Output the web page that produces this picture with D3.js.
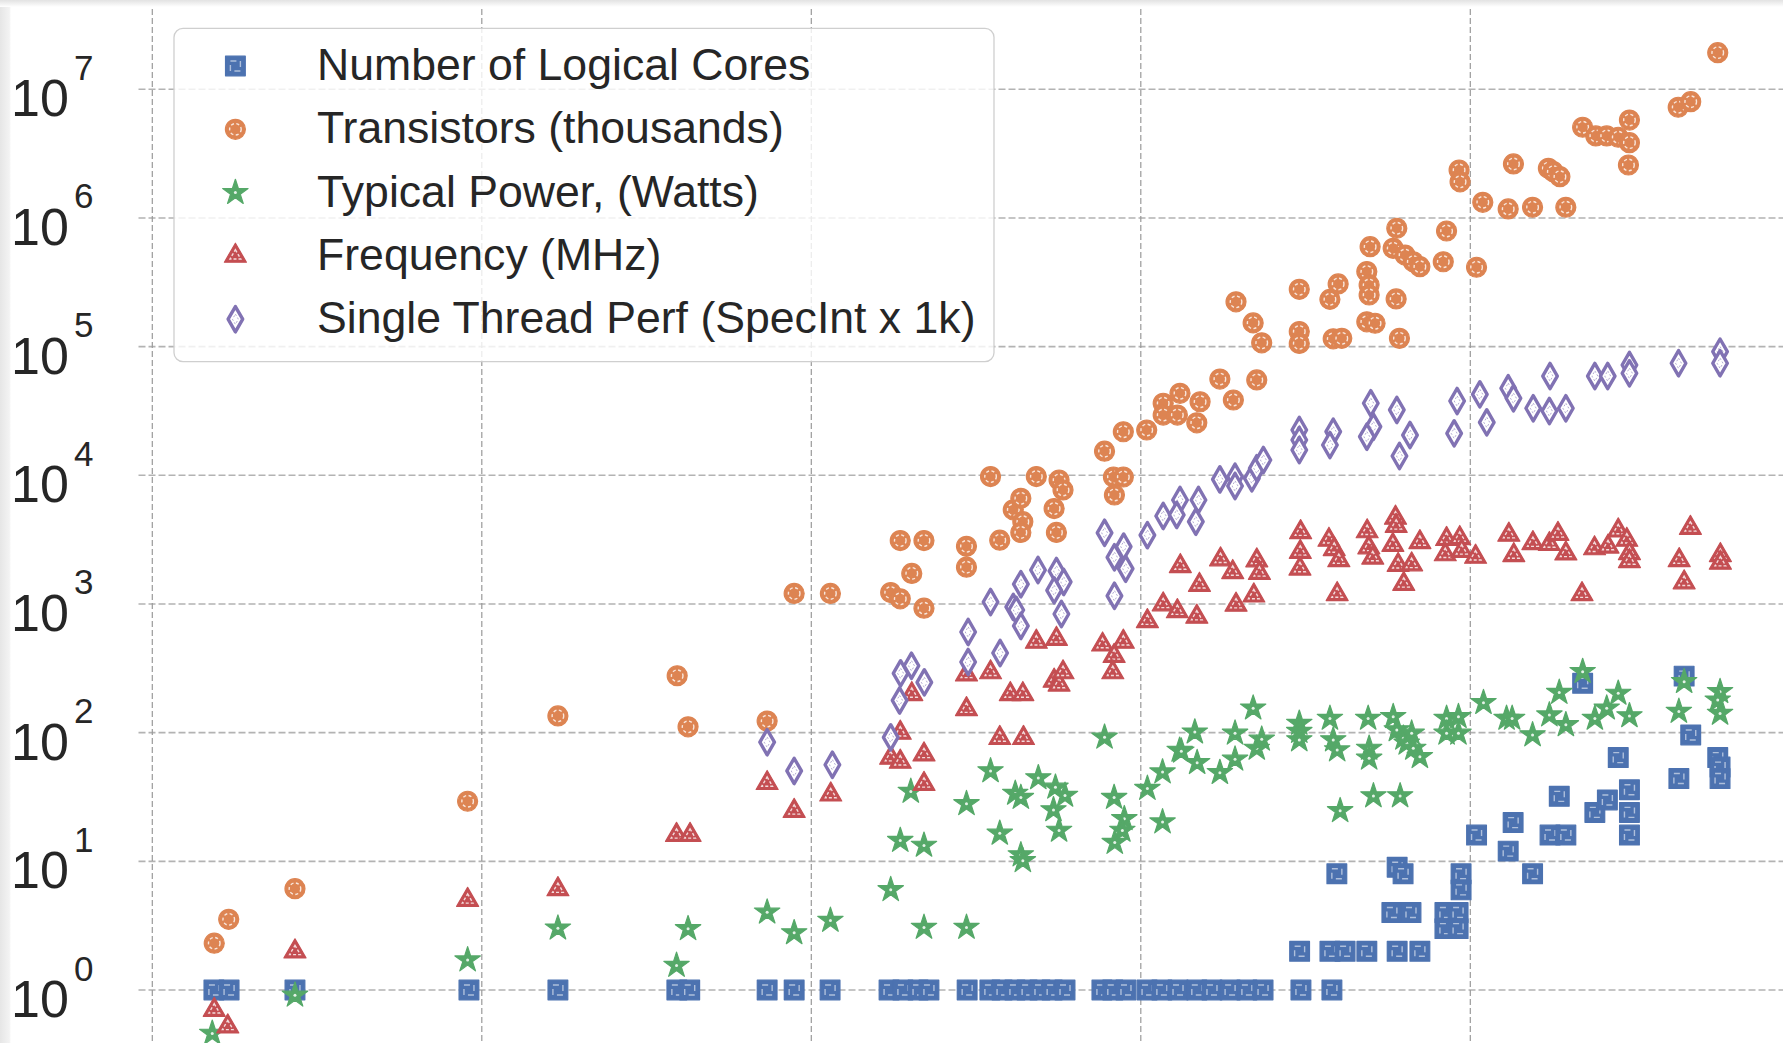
<!DOCTYPE html>
<html><head><meta charset="utf-8">
<script src="https://cdn.jsdelivr.net/npm/d3@7"></script>
<style>html,body{margin:0;padding:0;background:#fff;overflow:hidden}</style>
</head><body><svg id="chart" width="1783" height="1043"></svg>
<script>
// ---------- DATA ----------
const seriesNames = ["Number of Logical Cores", "Transistors (thousands)", "Typical Power, (Watts)", "Frequency (MHz)", "Single Thread Perf (SpecInt x 1k)"];
const seriesColors = ["#4C72B0", "#DD8452", "#55A868", "#C44E52", "#8172B3"];
const xTickYears = [1970, 1980, 1990, 2000, 2010];
const yTickExponents = [0, 1, 2, 3, 4, 5, 6, 7];

const coresYears = [1971.87,1972.33,1974.33,1979.61,1982.31,1985.92,1986.31,1988.66,1989.48,1990.57,1992.36,1992.78,1993.24,1993.57,1994.73,1995.42,1995.79,1996.18,1996.55,1996.94,1997.31,1997.70,1998.82,1999.15,1999.55,2000.19,2000.64,2001.13,2001.70,2002.16,2002.71,2003.22,2003.71,2004.86,2005.80,
  2004.82,2005.74,2006.20,2006.86,2007.78,2008.47,2007.62,2008.20,2005.95,2007.78,2007.96,2009.72,2009.72,2009.23,2009.63,2009.23,2009.63,
  2010.19,2011.15,2011.30,2011.89,2012.42,2012.90,2012.70,2013.78,2014.16,2014.83,2014.83,2014.83,2014.49,2013.41,2016.33,2016.69,2016.49,2017.51,2017.58,2017.58];
const coresValues = [1,1,1,1,1,1,1,1,1,1,1,1,1,1,1,1,1,1,1,1,1,1,1,1,1,1,1,1,1,1,1,1,1,1,1,
  2,2,2,2,2,2,4,4,8,9,8,8,6,4,4,3,3,
  16,12,20,8,16,16,32,24,30,36,24,16,64,242,44,96,275,64,54,44];

const transYears = [1971.88,1972.32,1974.33,1979.57,1982.31,1985.93,1986.26,1988.66,1989.48,1990.58,1992.41,1992.70,1993.05,1992.70,1993.42,1993.42,1994.71,1994.71,1995.44,1995.72,1996.13,1996.36,1996.42,1996.36,1996.83,1997.37,1997.52,1997.64,1997.44,1998.90,1999.47,1999.17,1999.47,1999.20,2000.18,2000.68,2001.19,2000.68,2001.11,2001.80,2001.70,2002.40,2002.81,2003.52,2002.89,2003.41,2003.67,2004.81,2004.81,2004.81,2005.74,2005.99,2005.84,2006.10,2006.96,2006.86,2006.93,2006.93,2006.86,2007.11,2007.77,2007.66,2008.02,2008.27,2008.47,2007.75,2007.85,2009.28,2009.18,2009.66,2009.69,2010.19,2010.38,2011.15,2011.89,2012.90,2011.31,2012.37,2012.52,2012.72,2013.41,2013.81,2014.14,2014.49,2014.83,2014.83,2014.80,2016.31,2016.69,2017.51];
const transValues = [2.31,3.54,6.13,29.3,135,277,111,123,1208,1208,1227,1097,1729,3111,3111,927,2807,1932,9775,3131,5395,6620,4363,3598,9775,5511,9200,7692,3598,15400,21800,9700,9700,7030,22500,36300,43400,29400,29400,37300,25600,56000,38500,55100,223000,153000,107000,279000,131000,106000,233000,307000,115000,116000,598000,383000,301000,252000,156000,152000,832000,581000,515000,457000,418000,235000,116000,792000,457000,2360000,1910000,414000,1324000,1175000,1211000,1211000,2630000,2433000,2290000,2094000,5070000,4340000,4340000,4240000,5770000,3850000,2580000,7250000,8010000,19270000];

const powerYears = [1971.82,1974.33,1979.57,1982.31,1985.91,1986.26,1988.66,1989.48,1990.58,1992.41,1993.02,1992.70,1993.42,1993.42,1994.71,1994.71,1995.44,1995.72,1996.19,1996.36,1996.36,1996.42,1996.89,1997.41,1997.70,1997.35,1997.52,1998.90,1999.19,1999.50,1999.44,1999.21,2000.20,2000.66,2000.66,2001.18,2001.23,2001.64,2001.71,2002.40,2002.86,2002.86,2003.41,2003.52,2003.67,2004.81,2004.81,2004.81,2005.74,2005.84,2005.96,2006.05,2006.90,2006.93,2006.93,2007.06,2007.87,2007.66,2007.77,2007.97,2008.07,2008.27,2008.47,2008.22,2009.28,2009.64,2009.28,2009.64,2010.40,2011.10,2011.27,2011.89,2012.40,2012.70,2012.90,2013.41,2013.78,2014.14,2014.49,2014.83,2016.33,2016.49,2017.58,2017.51,2017.58];
const powerValues = [0.46,0.91,1.71,3.02,1.55,2.99,4.02,2.78,3.47,6.01,34.9,14.5,13.3,3.06,3.06,28,50.4,16.5,33.7,31.3,11.2,10.1,44.5,37.6,32.5,25.1,17.4,92,31.3,21.4,17.4,14,36.8,49.4,20.2,72.8,71.7,101,58.4,48.9,98.9,62.1,155,75.5,88.8,118,102,87.7,129,87.7,73.3,24.7,129,75.5,63.2,32.2,32.2,133,105,90.4,82.6,75.5,65,98.9,129,133,98.9,98.9,171,129,129,95.9,137,205,115,298,129,155,202,135,146,249,208,179,141];

const freqYears = [1971.88,1972.29,1974.33,1979.57,1982.31,1985.91,1986.32,1988.66,1989.48,1990.59,1992.41,1992.70,1992.70,1993.42,1993.42,1993.05,1994.71,1994.71,1995.44,1995.72,1996.44,1996.04,1996.42,1996.83,1997.44,1997.37,1997.52,1997.64,1998.84,1999.47,1999.19,1999.15,2000.20,2000.68,2001.11,2001.70,2001.20,2001.78,2002.42,2002.79,2002.89,2003.43,2003.52,2003.60,2004.85,2004.84,2004.83,2005.71,2005.87,2006.01,2005.96,2006.87,2006.92,2007.04,2007.73,2007.75,2007.65,2007.81,2008.22,2007.98,2008.47,2009.28,2009.68,2009.24,2009.74,2010.16,2011.17,2011.32,2011.90,2012.40,2012.66,2012.90,2013.39,2013.77,2014.18,2014.49,2014.75,2014.83,2014.83,2016.34,2016.49,2016.68,2017.59,2017.59];
const freqValues = [0.70,0.52,1.99,5.0,6.06,16,16,40.5,24.6,33,63.8,59.3,99.7,67.6,39.9,199,283,152,294,90.7,90.7,199,199,508,535,253,236,294,483,508,394,294,734,991,877,795,1967,1406,2218,1767,986,1162,2178,1741,3606,2535,1881,3148,2665,2186,1191,3665,2748,2289,4677,4036,2875,2011,2028,1430,3020,3193,3246,2428,2582,2323,3450,2394,2965,2917,3499,2467,1189,2704,2789,3718,3148,2478,2151,2186,1471,3896,2394,2090];

const perfYears = [1988.66,1989.48,1990.64,1992.41,1992.68,1992.71,1993.04,1993.43,1994.76,1994.76,1995.44,1995.73,1996.13,1996.22,1996.36,1996.36,1996.88,1997.44,1997.66,1997.37,1997.59,1998.90,1999.20,1999.48,1999.54,1999.20,2000.20,2000.68,2001.19,2001.09,2001.75,2001.67,2002.40,2002.86,2002.86,2003.37,2003.52,2003.72,2004.81,2004.81,2004.81,2005.84,2005.74,2006.98,2007.06,2006.86,2007.77,2008.17,2007.85,2009.60,2009.51,2010.29,2010.50,2011.15,2011.31,2011.91,2012.42,2012.40,2012.90,2013.78,2014.17,2014.83,2014.83,2016.32,2017.58,2017.58];
const perfValues = [84.3,50.4,56.3,92,178,289,331,246,606,354,1036,416,948,898,1425,675,1837,1804,1483,1277,836,3575,2306,2793,1880,1158,3427,4830,6430,4920,6430,4360,9300,9750,8260,9480,11340,13150,22500,18820,15730,21840,17200,36300,23870,19950,32200,20560,14130,37800,21200,42600,25800,47500,39700,33200,59100,31600,33200,59100,59100,72000,62100,74300,91400,74300];

// ---------- CHART ----------
const W = 1783, H = 1043;
const svg = d3.select('#chart');
const font = "'Liberation Sans', Arial, Helvetica, sans-serif";
const textColor = '#262626';

const x = d3.scaleLinear().domain([1970, 2020]).range([152.3, 1799.8]);
const y = d3.scaleLog().domain([1, 1e7]).range([990, 89.3]);
const plotLeft = 138.5, plotTop = 9;

// notebook frame shadow
const defs = svg.append('defs');
const gTop = defs.append('linearGradient').attr('id', 'gtop').attr('x1', 0).attr('y1', 0).attr('x2', 0).attr('y2', 1);
gTop.append('stop').attr('offset', '0').attr('stop-color', '#e2e2e2');
gTop.append('stop').attr('offset', '1').attr('stop-color', '#ffffff');
const gLeft = defs.append('linearGradient').attr('id', 'gleft').attr('x1', 0).attr('y1', 0).attr('x2', 1).attr('y2', 0);
gLeft.append('stop').attr('offset', '0').attr('stop-color', '#e6e6e6');
gLeft.append('stop').attr('offset', '0.85').attr('stop-color', '#f3f3f3');
gLeft.append('stop').attr('offset', '1').attr('stop-color', '#ffffff');
svg.append('rect').attr('x', 0).attr('y', 0).attr('width', W).attr('height', H).attr('fill', '#fff');
svg.append('rect').attr('x', 0).attr('y', 0).attr('width', 11).attr('height', H).attr('fill', 'url(#gleft)');
svg.append('rect').attr('x', 0).attr('y', 0).attr('width', W).attr('height', 7).attr('fill', 'url(#gtop)');

// grid
const grid = svg.append('g');
grid.selectAll('line.h').data(yTickExponents).join('line')
  .attr('x1', plotLeft).attr('x2', W)
  .attr('y1', d => y(Math.pow(10, d))).attr('y2', d => y(Math.pow(10, d)))
  .attr('stroke', '#b3b3b3').attr('stroke-width', 1.6).attr('stroke-dasharray', '7,3');
grid.selectAll('line.v').data(xTickYears).join('line')
  .attr('x1', d => x(d)).attr('x2', d => x(d))
  .attr('y1', plotTop).attr('y2', H)
  .attr('stroke', '#9a9a9a').attr('stroke-width', 1.2).attr('stroke-dasharray', '6,3');

// y tick labels 10^n
const ticks = svg.append('g').attr('font-family', font).attr('fill', textColor);
ticks.selectAll('text.base').data(yTickExponents).join('text')
  .attr('x', 11).attr('y', d => y(Math.pow(10, d)) + 27)
  .attr('font-size', 52).text('10');
ticks.selectAll('text.exp').data(yTickExponents).join('text')
  .attr('x', 74).attr('y', d => y(Math.pow(10, d)) - 9.5)
  .attr('font-size', 35).text(d => d);

// markers
const shapes = [
  {type: d3.symbolSquare, size: 390, inner: 100, innerDash: '6,4', innerOpacity: 0.55},
  {type: d3.symbolCircle, size: 314, inner: 105, innerDash: '3,2.5', innerOpacity: 0.8},
  {type: d3.symbolStar, size: 200, inner: 0},
  {type: d3.symbolTriangle, size: 210, inner: 50, innerDash: '3,2', innerOpacity: 0.8},
  {type: d3.symbolDiamond, size: 185, inner: 30, innerDash: '2,2', hollow: true}
];
function drawMarker(sel, i) {
  const s = shapes[i], c = seriesColors[i];
  if (s.hollow) {
    sel.append('path').attr('d', d3.symbol(s.type, s.size)())
      .attr('fill', '#fff').attr('stroke', c).attr('stroke-width', 3.4).attr('stroke-linejoin', 'round');
    sel.append('path').attr('d', d3.symbol(s.type, s.inner)())
      .attr('fill', 'none').attr('stroke', c).attr('stroke-opacity', 0.6).attr('stroke-width', 1).attr('stroke-dasharray', s.innerDash);
  } else {
    sel.append('path').attr('d', d3.symbol(s.type, s.size)())
      .attr('fill', c).attr('stroke', c).attr('stroke-width', 1.2).attr('stroke-linejoin', 'round');
    if (s.inner > 0) {
      sel.append('path').attr('d', d3.symbol(s.type, s.inner)())
        .attr('fill', 'none').attr('stroke', '#fff').attr('stroke-opacity', s.innerOpacity).attr('stroke-width', 1.4).attr('stroke-dasharray', s.innerDash);
    } else {
      sel.append('circle').attr('r', 1.5).attr('fill', '#fff').attr('fill-opacity', 0.85);
    }
  }
}

const allSeries = [
  [coresYears, coresValues],
  [transYears, transValues],
  [powerYears, powerValues],
  [freqYears, freqValues],
  [perfYears, perfValues]
];
const plot = svg.append('g');
allSeries.forEach(([yrs, vals], i) => {
  const pts = yrs.map((yr, k) => ({yr, v: vals[k]}));
  plot.append('g').selectAll('g').data(pts).join('g')
    .attr('transform', d => `translate(${x(d.yr)},${y(d.v)})`)
    .each(function() { drawMarker(d3.select(this), i); });
});

// legend
const leg = svg.append('g');
leg.append('rect').attr('x', 174).attr('y', 28.3).attr('width', 820).attr('height', 333.4).attr('rx', 9)
  .attr('fill', '#fff').attr('fill-opacity', 0.8).attr('stroke', '#cfcfcf').attr('stroke-width', 1.3);
const rows = leg.selectAll('g.row').data(seriesNames).join('g')
  .attr('transform', (d, i) => `translate(0,${80 + i * 63.3})`);
rows.each(function(d, i) {
  const g = d3.select(this);
  const m = g.append('g').attr('transform', 'translate(235.4,-14)');
  drawMarker(m, i);
  g.append('text').attr('x', 317).attr('y', 0).attr('font-family', font)
    .attr('font-size', 44.6).attr('fill', textColor).text(d);
});
</script>
</body></html>
